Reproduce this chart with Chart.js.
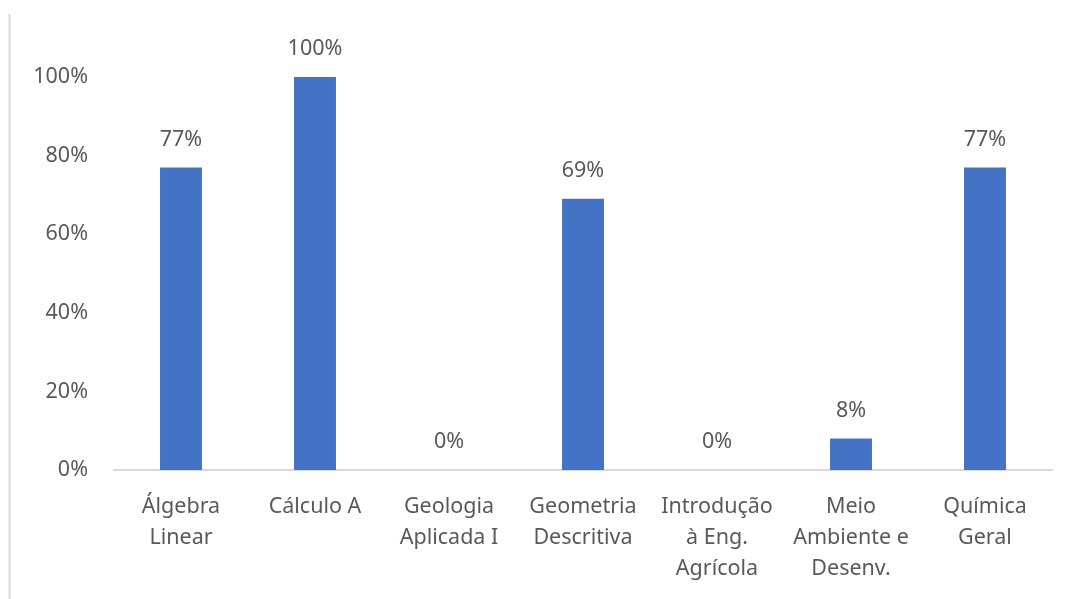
<!DOCTYPE html>
<html>
<head>
<meta charset="utf-8">
<script src="https://cdn.jsdelivr.net/npm/chart.js@4.4.0/dist/chart.umd.min.js"></script>
<style>
  html, body { margin: 0; padding: 0; background: #fff; }
  #wrap { width: 1072px; height: 599px; }
</style>
</head>
<body>
<div id="wrap"><canvas id="chart" width="1072" height="599"></canvas></div>
<script>
// DATA
const disciplinas = [
  ["Álgebra", "Linear"],
  ["Cálculo A"],
  ["Geologia", "Aplicada I"],
  ["Geometria", "Descritiva"],
  ["Introdução", "à Eng.", "Agrícola"],
  ["Meio", "Ambiente e", "Desenv."],
  ["Química", "Geral"]
];
const aprovacao = [77, 100, 0, 69, 0, 8, 77];
const y_ticks = [0, 20, 40, 60, 80, 100];

const txt_color = "#595959";
const line_color = "#d9d9d9";
const font_family = "'Noto Sans', 'Open Sans', sans-serif";
const font_size = 21.5;

// value labels above the bars + left frame line
const extras = {
  id: "extras",
  afterDatasetsDraw(chart) {
    const ctx = chart.ctx;
    const meta = chart.getDatasetMeta(0);
    ctx.save();
    ctx.fillStyle = txt_color;
    ctx.font = font_size + "px " + font_family;
    ctx.textAlign = "center";
    ctx.textBaseline = "middle";
    meta.data.forEach((bar, i) => {
      ctx.fillText(aprovacao[i] + "%", bar.x, bar.y - 28);
    });
    ctx.restore();
  },
  beforeDraw(chart) {
    const ctx = chart.ctx;
    ctx.save();
    ctx.strokeStyle = line_color;
    ctx.lineWidth = 2;
    ctx.beginPath();
    ctx.moveTo(9.5, 14);
    ctx.lineTo(9.5, 599);
    ctx.stroke();
    ctx.restore();
  }
};

new Chart(document.getElementById("chart"), {
  type: "bar",
  data: {
    labels: disciplinas,
    datasets: [{
      data: aprovacao,
      backgroundColor: "#4472C4",
      barPercentage: 0.313,
      categoryPercentage: 1
    }]
  },
  options: {
    responsive: false,
    animation: false,
    layout: { padding: { top: 77, right: 20, left: 0, bottom: 0 } },
    plugins: { legend: { display: false }, tooltip: { enabled: false } },
    scales: {
      x: {
        grid: { display: false, drawTicks: false },
        border: { display: true, color: line_color, width: 2 },
        ticks: {
          color: txt_color,
          font: { size: font_size, family: font_family, lineHeight: 1.44 },
          padding: 21,
          maxRotation: 0,
          autoSkip: false
        },
        afterFit(scale) { scale.height = 129; }
      },
      y: {
        min: 0,
        max: 100,
        afterBuildTicks(scale) { scale.ticks = y_ticks.map(v => ({ value: v })); },
        grid: { display: false, drawTicks: false },
        border: { display: false },
        ticks: {
          color: txt_color,
          font: { size: font_size, family: font_family },
          padding: 26,
          callback: (v) => v + "%"
        },
        afterFit(scale) { scale.width = 114; }
      }
    }
  },
  plugins: [extras]
});
</script>
</body>
</html>
